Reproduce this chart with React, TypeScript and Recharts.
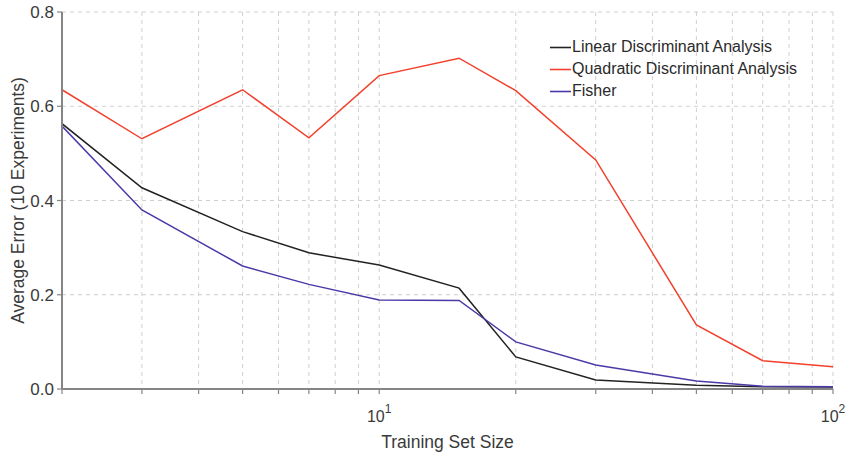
import React from "react";
import { LineChart, Line, XAxis, YAxis, CartesianGrid } from "recharts";

// Training set sizes (log-spaced experiment points)
const sizes = [2, 3, 5, 7, 10, 15, 20, 30, 50, 70, 100];
// Average error over 10 experiments for each classifier
const ldaError = [0.563, 0.427, 0.334, 0.289, 0.263, 0.214, 0.068, 0.019, 0.008, 0.005, 0.004];
const qdaError = [0.635, 0.531, 0.635, 0.533, 0.665, 0.702, 0.633, 0.486, 0.136, 0.06, 0.047];
const fisherError = [0.558, 0.38, 0.261, 0.222, 0.189, 0.188, 0.1, 0.051, 0.017, 0.006, 0.005];

// Axis ticks: every integer step within each decade gets a grid line
const xTicks = [2, 3, 4, 5, 6, 7, 8, 9, 10, 20, 30, 40, 50, 60, 70, 80, 90, 100];
const xLabelled: Record<number, string> = { 10: "1", 100: "2" };
const yTicks = [0, 0.2, 0.4, 0.6, 0.8];

const seriesInfo = [
  { key: "lda", name: "Linear Discriminant Analysis", color: "#222222" },
  { key: "qda", name: "Quadratic Discriminant Analysis", color: "#f2402c" },
  { key: "fisher", name: "Fisher", color: "#4a3aa8" },
];

const data = sizes.map((n, i) => ({
  n,
  lda: ldaError[i],
  qda: qdaError[i],
  fisher: fisherError[i],
}));

const FONT = "Liberation Sans, Arial, sans-serif";
const TEXT = "#3a3a3a";
const AXIS = "#858585";

const PowerTick = (props: any) => {
  const { x, y, payload } = props;
  const exp = xLabelled[payload.value];
  if (!exp) return null;
  return (
    <text x={x} y={y + 26} textAnchor="middle" fontFamily={FONT} fontSize={16} fill={TEXT}>
      <tspan>10</tspan>
      <tspan dy={-9} fontSize={12}>{exp}</tspan>
    </text>
  );
};

// Key drawn as an overlay in the upper-right corner of the plot
const LegendBox = () => (
  <div
    style={{
      position: "absolute",
      left: 550,
      top: 36,
      fontFamily: FONT,
      fontSize: 16,
      color: "#2a2a2a",
      lineHeight: "22px",
    }}
  >
    {seriesInfo.map((s) => (
      <div key={s.key} style={{ display: "flex", alignItems: "center", whiteSpace: "nowrap" }}>
        <svg width={22} height={22} style={{ display: "block" }}>
          <line x1={0} y1={11.5} x2={21} y2={11.5} stroke={s.color} strokeWidth={1.6} />
        </svg>
        <span>{s.name}</span>
      </div>
    ))}
  </div>
);

export default function App() {
  return (
    <div style={{ position: "absolute", left: 0, top: 0, width: 850, height: 455, background: "#fff" }}>
      <LineChart width={850} height={455} data={data} margin={{ top: 12, right: 17, left: 0, bottom: 6 }}>
        <CartesianGrid stroke="#cfcfcf" strokeDasharray="4 4" />
        <XAxis
          dataKey="n"
          type="number"
          scale="log"
          domain={[2, 100]}
          ticks={xTicks}
          allowDataOverflow
          interval={0}
          height={60}
          tick={<PowerTick />}
          tickSize={5}
          axisLine={{ stroke: AXIS, strokeWidth: 2 }}
          tickLine={{ stroke: AXIS, strokeWidth: 1.2 }}
          label={{
            content: (p: any) => {
              const vb = p.viewBox;
              return (
                <text x={vb.x + vb.width / 2} y={vb.y + 59} textAnchor="middle" fontFamily={FONT} fontSize={17.5} fill={TEXT}>
                  Training Set Size
                </text>
              );
            },
          }}
        />
        <YAxis
          type="number"
          domain={[0, 0.8]}
          ticks={yTicks}
          width={62}
          tickFormatter={(v: number) => v.toFixed(1)}
          tick={{ fontFamily: FONT, fontSize: 17, fill: TEXT }}
          tickSize={5}
          tickMargin={3}
          axisLine={{ stroke: AXIS, strokeWidth: 2 }}
          tickLine={{ stroke: AXIS, strokeWidth: 1.2 }}
          label={{
            content: (p: any) => {
              const vb = p.viewBox;
              const cx = vb.x + 18;
              const cy = vb.y + vb.height / 2;
              return (
                <text x={cx} y={cy} transform={`rotate(-90 ${cx} ${cy})`} textAnchor="middle" dominantBaseline="central" fontFamily={FONT} fontSize={17.5} fill={TEXT}>
                  Average Error (10 Experiments)
                </text>
              );
            },
          }}
        />
        {seriesInfo.map((s) => (
          <Line
            key={s.key}
            type="linear"
            dataKey={s.key}
            name={s.name}
            stroke={s.color}
            strokeWidth={1.5}
            dot={false}
            activeDot={false}
            isAnimationActive={false}
          />
        ))}
      </LineChart>
      <LegendBox />
    </div>
  );
}
